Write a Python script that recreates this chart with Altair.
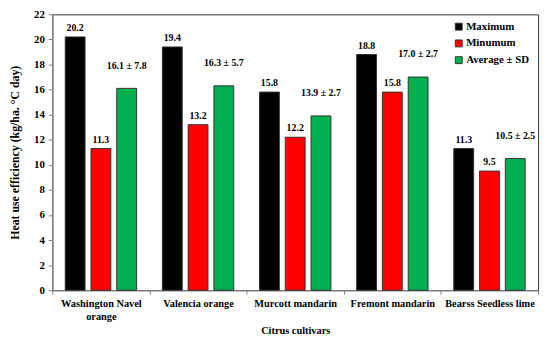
import altair as alt
import pandas as pd

cultivars = ["Washington Navel orange", "Valencia orange", "Murcott mandarin",
             "Fremont  mandarin", "Bearss Seedless lime"]
maximum = [20.2, 19.4, 15.8, 18.8, 11.3]
minimum = [11.3, 13.2, 12.2, 15.8, 9.5]
average = [16.1, 16.3, 13.9, 17.0, 10.5]
sd = [7.8, 5.7, 2.7, 2.7, 2.5]
series = ["Maximum", "Minumum", "Average ± SD"]
colors = ["#000000", "#FF0000", "#00B050"]
y_ticks = list(range(0, 23, 2))

rows = []
for i, c in enumerate(cultivars):
    rows.append(dict(cultivar=c, series=series[0], value=maximum[i], label=f"{maximum[i]:.1f}"))
    rows.append(dict(cultivar=c, series=series[1], value=minimum[i], label=f"{minimum[i]:.1f}"))
    rows.append(dict(cultivar=c, series=series[2], value=average[i],
                     label=f"{average[i]:.1f} ± {sd[i]:.1f}"))
df = pd.DataFrame(rows)

FONT = "Liberation Serif"

x = alt.X("cultivar:N", sort=cultivars, title="Citrus  cultivars",
          scale=alt.Scale(paddingInner=0, paddingOuter=0),
          axis=alt.Axis(labelAngle=0, tickBand="extent", labelFont=FONT, labelFontWeight="bold",
                        labelFontSize=10.5, labelColor="black", titleFont=FONT, titleFontWeight="bold",
                        titleFontSize=10.5, titleColor="black", domainColor="#808080", tickColor="#808080",
                        tickSize=4, labelPadding=5, titlePadding=4, labelLimit=200, labelLineHeight=12.5,
                        labelExpr="datum.label == 'Washington Navel orange' ? ['Washington Navel', 'orange'] : datum.label"))
xo = alt.XOffset("series:N", sort=series,
                 scale=alt.Scale(paddingInner=0.23, paddingOuter=0.5))
y = alt.Y("value:Q", title="Heat use efficiency (kg/ha. °C day)",
          scale=alt.Scale(domain=[0, 22], nice=False),
          axis=alt.Axis(values=y_ticks, grid=False, labelFont=FONT, labelFontWeight="bold",
                        labelFontSize=11, labelColor="black", titleFont=FONT, titleFontWeight="bold",
                        titleFontSize=12, titleColor="black", domainColor="#808080", tickColor="#808080",
                        tickSize=4, labelPadding=4, titlePadding=12))

base = alt.Chart(df)

bars = base.mark_bar(stroke="#333333", strokeWidth=1).encode(
    x=x, xOffset=xo, y=y,
    color=alt.Color("series:N", sort=series,
                    scale=alt.Scale(domain=series, range=colors),
                    legend=alt.Legend(title=None, orient="none", legendX=407, legendY=7, padding=0,
                                      symbolType="square",
                                      symbolSize=49, symbolStrokeColor="#333333", symbolStrokeWidth=1,
                                      labelFont=FONT, labelFontWeight="bold", labelFontSize=11,
                                      labelColor="black", rowPadding=5, labelOffset=2)),
)

labels_a = base.transform_filter(alt.datum.series != "Average ± SD").mark_text(
    dy=-9, font=FONT, fontWeight="bold", fontSize=10, color="black").encode(
    x=x, xOffset=xo, y=y, text="label:N")

labels_b = base.transform_filter(alt.datum.series == "Average ± SD").mark_text(
    dy=-23, font=FONT, fontWeight="bold", fontSize=10, color="black").encode(
    x=x, xOffset=xo, y=y, text="label:N")

chart = alt.layer(bars, labels_a, labels_b).properties(
    width=493, height=280,
    autosize=alt.AutoSizeParams(type="none"),
    padding={"left": 45, "top": 4, "right": 4, "bottom": 44},
).configure_view(stroke="#333333", strokeWidth=1)

chart.save("out.html", embed_options={"renderer": "svg", "actions": False})
